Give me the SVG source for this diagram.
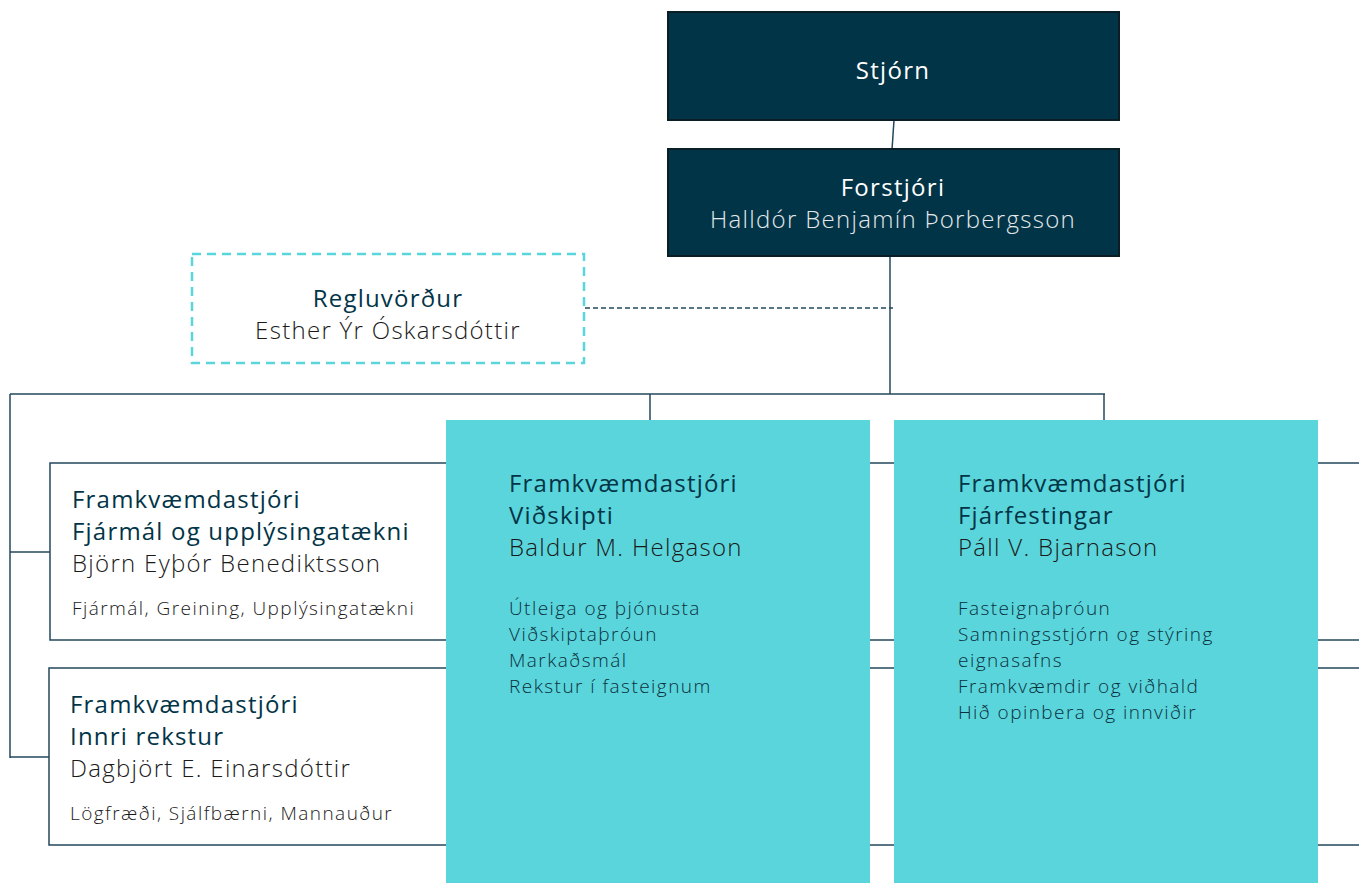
<svg xmlns="http://www.w3.org/2000/svg" width="1359" height="883" viewBox="0 0 1359 883">
<style>
.dark{fill:#023447;stroke:#0b1e26;stroke-width:2}
.teal{fill:#5ad5db}
.wbox{fill:#fff;stroke:#23485c;stroke-width:1.5}
.dash{fill:#fff;stroke:#5ad5db;stroke-width:2.5;stroke-dasharray:9 6}
.ln{fill:none;stroke:#23485c;stroke-width:1.5}
text{font-family:"Open Sans","Noto Sans",sans-serif;font-size:24px;letter-spacing:1.3px}
.t{fill:#023447;font-weight:400;letter-spacing:1.2px}
.n{fill:#1a1a1a;font-weight:300}
.s{fill:#1a1a1a;font-weight:300;font-size:19px;letter-spacing:1.45px}
.s2{fill:#0b3040;font-weight:300;font-size:19px;letter-spacing:1.45px}
.w{fill:#fff;font-weight:400}
.wl{fill:#e4e8ea;font-weight:300}
</style>
<g id="connectors">
<line class="ln" x1="894" y1="120" x2="892" y2="150"/>
<line class="ln" x1="890" y1="256" x2="890" y2="394"/>
<line class="ln" x1="585" y1="308" x2="893" y2="308" stroke-dasharray="5 3"/>
<line class="ln" x1="10" y1="394" x2="1105" y2="394"/>
<line class="ln" x1="10" y1="394" x2="10" y2="758"/>
<line class="ln" x1="10" y1="552" x2="52" y2="552"/>
<line class="ln" x1="10" y1="757" x2="50" y2="757"/>
<line class="ln" x1="650" y1="394" x2="650" y2="420"/>
<line class="ln" x1="1104" y1="394" x2="1104" y2="420"/>
</g>
<g id="stjorn">
<rect class="dark" x="668" y="12" width="451" height="108"/>
<text class="w" x="893" y="79" text-anchor="middle">Stjórn</text>
</g>
<g id="forstjori">
<rect class="dark" x="668" y="149" width="451" height="107"/>
<text class="w" x="893" y="196" text-anchor="middle">Forstjóri</text>
<text class="wl" x="893" y="228" text-anchor="middle">Halldór Benjamín Þorbergsson</text>
</g>
<g id="regluvordur">
<rect class="dash" x="192" y="254" width="392" height="109"/>
<text class="t" x="388" y="307" text-anchor="middle">Regluvörður</text>
<text class="n" x="388" y="339" text-anchor="middle">Esther Ýr Óskarsdóttir</text>
</g>
<g id="fjarmal">
<rect class="wbox" x="50" y="463" width="1320" height="177"/>
<text class="t" x="72" y="508">Framkvæmdastjóri</text>
<text class="t" x="72" y="540">Fjármál og upplýsingatækni</text>
<text class="n" x="72" y="572">Björn Eyþór Benediktsson</text>
<text class="s" x="72" y="615">Fjármál, Greining, Upplýsingatækni</text>
</g>
<g id="innri">
<rect class="wbox" x="49" y="668" width="1321" height="177"/>
<text class="t" x="70" y="713">Framkvæmdastjóri</text>
<text class="t" x="70" y="745">Innri rekstur</text>
<text class="n" x="70" y="777">Dagbjört E. Einarsdóttir</text>
<text class="s" x="70" y="820">Lögfræði, Sjálfbærni, Mannauður</text>
</g>
<g id="vidskipti">
<rect class="teal" x="446" y="420" width="424" height="463"/>
<text class="t" x="509" y="492">Framkvæmdastjóri</text>
<text class="t" x="509" y="524">Viðskipti</text>
<text class="n" x="509" y="556">Baldur M. Helgason</text>
<text class="s2" x="509" y="615">Útleiga og þjónusta</text>
<text class="s2" x="509" y="641">Viðskiptaþróun</text>
<text class="s2" x="509" y="667">Markaðsmál</text>
<text class="s2" x="509" y="693">Rekstur í fasteignum</text>
</g>
<g id="fjarfestingar">
<rect class="teal" x="894" y="420" width="424" height="463"/>
<text class="t" x="958" y="492">Framkvæmdastjóri</text>
<text class="t" x="958" y="524">Fjárfestingar</text>
<text class="n" x="958" y="556">Páll V. Bjarnason</text>
<text class="s2" x="958" y="615">Fasteignaþróun</text>
<text class="s2" x="958" y="641">Samningsstjórn og stýring</text>
<text class="s2" x="958" y="667">eignasafns</text>
<text class="s2" x="958" y="693">Framkvæmdir og viðhald</text>
<text class="s2" x="958" y="719">Hið opinbera og innviðir</text>
</g>
</svg>
